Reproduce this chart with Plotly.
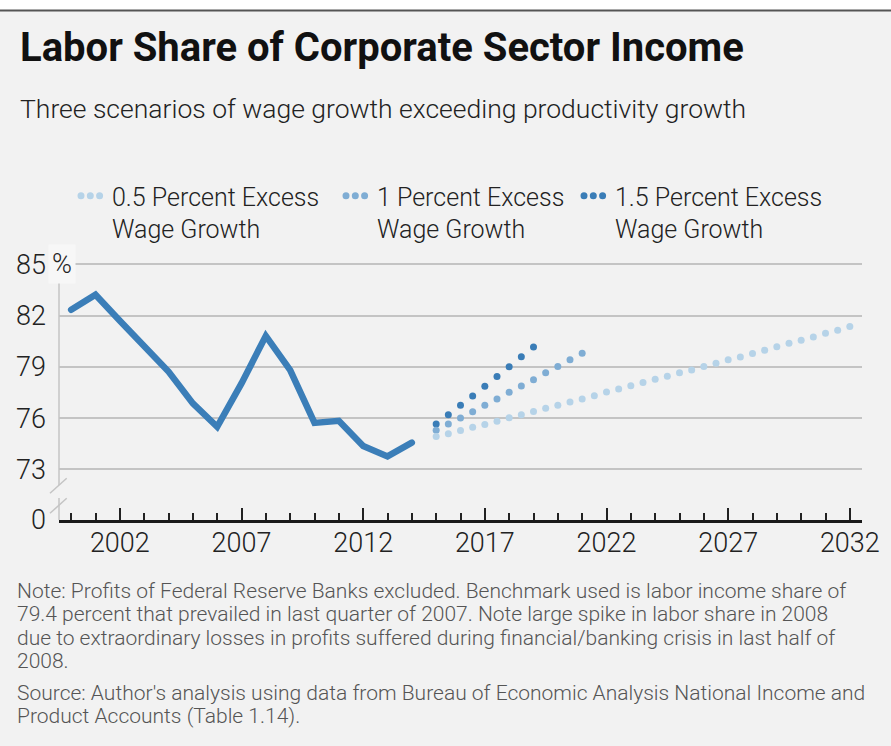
import plotly.graph_objects as go

# ---------------- data ----------------
years_hist = [2000, 2001, 2002, 2003, 2004, 2005, 2006, 2007, 2008, 2009, 2010, 2011, 2012, 2013, 2014]
share_hist = [82.34, 83.22, 81.70, 80.18, 78.72, 76.86, 75.49, 78.03, 80.81, 78.81, 75.72, 75.84, 74.37, 73.76, 74.57]

years_05 = [2015, 2015.5, 2016, 2016.5, 2017, 2017.5, 2018, 2018.5, 2019, 2019.5, 2020, 2020.5,
            2021, 2021.5, 2022, 2022.5, 2023, 2023.5, 2024, 2024.5, 2025, 2025.5, 2026, 2026.5,
            2027, 2027.5, 2028, 2028.5, 2029, 2029.5, 2030, 2030.5, 2031, 2031.5, 2032]
share_05 = [74.92, 75.08, 75.27, 75.47, 75.63, 75.82, 76.02, 76.20, 76.39, 76.57, 76.75, 76.94,
            77.12, 77.31, 77.52, 77.71, 77.89, 78.08, 78.28, 78.45, 78.65, 78.82, 79.02, 79.21,
            79.41, 79.58, 79.78, 79.97, 80.17, 80.38, 80.56, 80.75, 80.97, 81.14, 81.36]

years_10 = [2015, 2015.5, 2016, 2016.5, 2017, 2017.5, 2018, 2018.5, 2019, 2019.5, 2020, 2020.5, 2021]
share_10 = [75.29, 75.65, 76.00, 76.37, 76.75, 77.12, 77.51, 77.88, 78.25, 78.65, 79.02, 79.41, 79.80]

years_15 = [2015, 2015.5, 2016, 2016.5, 2017, 2017.5, 2018, 2018.5, 2019]
share_15 = [75.65, 76.20, 76.75, 77.29, 77.86, 78.43, 79.00, 79.59, 80.16]

x_tick_vals = [2002, 2007, 2012, 2017, 2022, 2027, 2032]
x_tick_text = ["2002", "2007", "2012", "2017", "2022", "2027", "2032"]
y_tick_vals = [70.04, 73, 76, 79, 82, 85]
y_tick_text = ["0", "73", "76", "79", "82", "85"]

series_names = ["0.5 Percent Excess<br>Wage Growth",
                "1 Percent Excess<br>Wage Growth",
                "1.5 Percent Excess<br>Wage Growth"]

title_text = "Labor Share of Corporate Sector Income"
subtitle_text = "Three scenarios of wage growth exceeding productivity growth"
note_lines = [
    "Note: Profits of Federal Reserve Banks excluded. Benchmark used is labor income share of",
    "79.4 percent that prevailed in last quarter of 2007. Note large spike in labor share in 2008",
    "due to extraordinary losses in profits suffered during financial/banking crisis in last half of",
    "2008.",
]
source_lines = [
    "Source: Author's analysis using data from Bureau of Economic Analysis National Income and",
    "Product Accounts (Table 1.14).",
]

# ---------------- style ----------------
W, H = 891, 746
ML, MR, MT, MB = 59, 29, 261, 226
Y_MIN, Y_MAX = 70.04, 85.19
BG = "#f2f2f2"
FONT = "Roboto"
C_MAIN = "#3b7eb8"
C_15 = "#3a7db7"
C_10 = "#7fadd4"
C_05 = "#b6d3e8"
GRID = "#c4c4c4"


def px(xp):
    return (xp - ML) / (W - ML - MR)


def py(yp):
    return (H - MB - yp) / (H - MT - MB)


def yval(yp):
    return Y_MIN + (H - MB - yp) / (H - MT - MB) * (Y_MAX - Y_MIN)


fig = go.Figure()

fig.add_trace(go.Scatter(x=years_hist, y=share_hist, mode="lines",
                         line=dict(color=C_MAIN, width=6.5), showlegend=False, hoverinfo="skip"))
fig.add_trace(go.Scatter(x=years_15, y=share_15, mode="markers",
                         marker=dict(color=C_15, size=7), showlegend=False, hoverinfo="skip"))
fig.add_trace(go.Scatter(x=years_10, y=share_10, mode="markers",
                         marker=dict(color=C_10, size=7), showlegend=False, hoverinfo="skip"))
fig.add_trace(go.Scatter(x=years_05, y=share_05, mode="markers",
                         marker=dict(color=C_05, size=7), showlegend=False, hoverinfo="skip"))

legend_dash = "0px,9.3px,0px,9.3px,0px,200px"
for name, col, lg in zip(series_names, [C_05, C_10, C_15], ["legend", "legend2", "legend3"]):
    fig.add_trace(go.Scatter(x=[None], y=[None], mode="lines", name=name,
                             line=dict(color=col, width=7, dash=legend_dash),
                             legend=lg, showlegend=True))

leg_common = dict(yanchor="top", xanchor="left", orientation="v", bgcolor="rgba(0,0,0,0)",
                  borderwidth=0, valign="top", itemwidth=30,
                  font=dict(family=FONT, size=25, color="#222", weight=300),
                  itemclick=False, itemdoubleclick=False)

fig.update_layout(
    width=W, height=H,
    margin=dict(l=ML, r=MR, t=MT, b=MB, pad=0),
    paper_bgcolor=BG, plot_bgcolor=BG,
    font=dict(family=FONT, color="#222"),
    legend=dict(x=px(72), y=py(173), **leg_common),
    legend2=dict(x=px(337), y=py(173), **leg_common),
    legend3=dict(x=px(575), y=py(173), **leg_common),
    xaxis=dict(range=[1999.5, 2032.5], tickmode="array", tickvals=x_tick_vals, ticktext=x_tick_text,
               ticks="inside", ticklen=12, tickwidth=2, tickcolor="#222",
               minor=dict(ticks="inside", dtick=1, tick0=2000, ticklen=7, tickwidth=2,
                          tickcolor="#222", showgrid=False),
               showline=True, linecolor="#1a1a1a", linewidth=3, showgrid=False, zeroline=False,
               tickfont=dict(family=FONT, size=27, color="#222", weight=300),
               ticklabelstandoff=-3, fixedrange=True),
    yaxis=dict(range=[Y_MIN, Y_MAX], tickmode="array", tickvals=y_tick_vals, ticktext=y_tick_text,
               showgrid=True, gridcolor=GRID, gridwidth=1.5, showline=False, zeroline=False,
               ticks="", tickfont=dict(family=FONT, size=27, color="#222", weight=300),
               ticklabelstandoff=12, fixedrange=True),
)

annotations = [
    dict(text=title_text, x=px(18), y=py(47), xref="paper", yref="paper", xanchor="left", yanchor="middle",
         showarrow=False, font=dict(family=FONT, size=40, color="#111", weight=700)),
    dict(text=subtitle_text, x=px(18), y=py(108), xref="paper", yref="paper", xanchor="left", yanchor="middle",
         showarrow=False, font=dict(family=FONT, size=26.5, color="#222", weight=300)),
    dict(text="%", x=px(62), y=85, xref="paper", yref="y", xanchor="center", yanchor="middle",
         showarrow=False, bgcolor="#f7f7f7", borderpad=3,
         font=dict(family=FONT, size=27, color="#222", weight=300)),
]
note_centers = [589.5, 613, 636.5, 660]
source_centers = [691.5, 715]
for txt, yc in list(zip(note_lines, note_centers)) + list(zip(source_lines, source_centers)):
    annotations.append(dict(text=txt, x=px(15), y=py(yc + 1), xref="paper", yref="paper",
                            xanchor="left", yanchor="middle", align="left", showarrow=False,
                            font=dict(family=FONT, size=21, color="#555", weight=300)))
fig.update_layout(annotations=annotations)

axis_col = "#c4c4c4"
shapes = [
    # top white strip and border line
    dict(type="rect", xref="paper", yref="paper", x0=px(0), x1=px(W), y0=py(0), y1=py(10),
         fillcolor="#ffffff", line=dict(width=0), layer="below"),
    dict(type="line", xref="paper", yref="paper", x0=px(0), x1=px(W), y0=py(10.5), y1=py(10.5),
         line=dict(color="#555555", width=2)),
    # broken y axis
    dict(type="line", xref="paper", yref="y", x0=0, x1=0, y0=yval(485), y1=yval(279),
         line=dict(color=axis_col, width=1.5), layer="below"),
    dict(type="line", xref="paper", yref="y", x0=0, x1=0, y0=Y_MIN, y1=yval(498),
         line=dict(color=axis_col, width=1.5), layer="below"),
    dict(type="line", xref="paper", yref="y", x0=px(50), x1=px(66.7), y0=yval(493.3), y1=yval(478.3),
         line=dict(color=axis_col, width=1.5)),
    dict(type="line", xref="paper", yref="y", x0=px(50), x1=px(66.7), y0=yval(513.3), y1=yval(498.3),
         line=dict(color=axis_col, width=1.5)),
]
fig.update_layout(shapes=shapes)

post_js = """
document.querySelectorAll('.legendlines path').forEach(function(p){
  p.style.strokeLinecap = 'round';
  p.style.strokeDashoffset = '-4px';
});
document.querySelectorAll('.scatterlayer .js-line').forEach(function(p){
  p.style.strokeLinecap = 'round';
});
"""

fig.write_html("out.html", config={"displayModeBar": False}, post_script=post_js)
